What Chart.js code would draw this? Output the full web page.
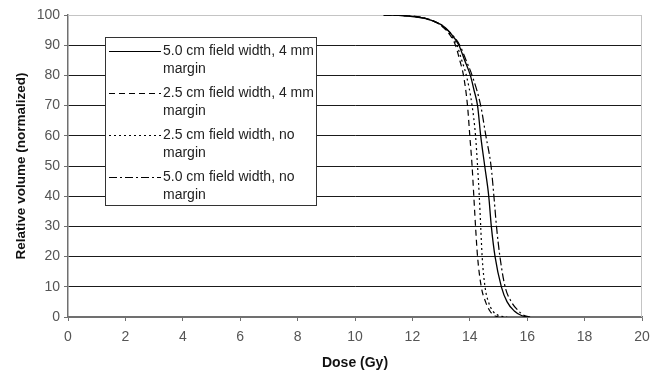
<!DOCTYPE html>
<html>
<head>
<meta charset="utf-8">
<script src="https://cdn.jsdelivr.net/npm/chart.js@4/dist/chart.umd.min.js"></script>
<style>
  html, body { margin: 0; padding: 0; background: #fff; }
  #wrap { width: 659px; height: 377px; }
</style>
</head>
<body>
<div id="wrap"><canvas id="chartDVH" width="659" height="377"></canvas></div>
<script>
// Dosis (Gy) y volumen relativo (%)
const etiquetas = [
    '5.0 cm field width, 4 mm margin',
    '2.5 cm field width, 4 mm margin',
    '2.5 cm field width, no margin',
    '5.0 cm field width, no margin'
];

const dosis5cm4mm = [11, 11.5, 12, 12.5, 13, 13.3, 13.62, 13.82, 14.02, 14.15, 14.27, 14.38, 14.52, 14.66, 14.75, 14.88, 15.1, 15.3, 15.55, 15.8, 16.0];
const vol5cm4mm   = [100, 99.9, 99.5, 98.7, 96.8, 94.3, 90, 85, 80, 75, 70, 60, 50, 40, 30, 20, 10, 5, 2, 0.5, 0];

const dosis25cm4mm = [11, 11.5, 12, 12.5, 13, 13.3, 13.5, 13.65, 13.78, 13.92, 14.0, 14.08, 14.14, 14.2, 14.27, 14.4, 14.55, 14.7, 14.85, 15.0];
const vol25cm4mm   = [100, 99.9, 99.6, 98.8, 96.5, 93.5, 90, 85, 80, 70, 60, 50, 40, 30, 20, 10, 5, 2, 0.5, 0];

const dosis25cmSin = [11, 11.5, 12, 12.5, 13, 13.3, 13.55, 13.72, 13.88, 14.08, 14.2, 14.27, 14.33, 14.38, 14.43, 14.53, 14.65, 14.8, 15.0, 15.3];
const vol25cmSin   = [100, 99.9, 99.6, 98.8, 96.6, 93.8, 90, 85, 80, 70, 60, 50, 40, 30, 20, 10, 5, 2, 0.5, 0];

const dosis5cmSin = [11, 11.5, 12, 12.5, 13, 13.3, 13.65, 13.87, 14.08, 14.38, 14.56, 14.74, 14.84, 14.93, 15.05, 15.23, 15.45, 15.7, 15.9, 16.1];
const vol5cmSin   = [100, 99.9, 99.5, 98.7, 96.8, 94.3, 90, 85, 80, 70, 60, 50, 40, 30, 20, 10, 5, 2, 0.5, 0];

const ticksX = [0, 2, 4, 6, 8, 10, 12, 14, 16, 18, 20];
const ticksY = [0, 10, 20, 30, 40, 50, 60, 70, 80, 90, 100];

const trazos = [[], [6, 4], [2, 3], [8, 3, 2, 3]];

const fuente = '"Liberation Sans", Arial, sans-serif';

function armarPuntos(dosis, vol) {
    return dosis.map((d, i) => ({ x: d, y: vol[i] }));
}

const series = [
    armarPuntos(dosis5cm4mm, vol5cm4mm),
    armarPuntos(dosis25cm4mm, vol25cm4mm),
    armarPuntos(dosis25cmSin, vol25cmSin),
    armarPuntos(dosis5cmSin, vol5cmSin)
];

// Leyenda dibujada dentro del area del grafico
const leyendaInterna = {
    id: 'leyendaInterna',
    afterDraw(chart) {
        const ctx = chart.ctx;
        const caja = { x: 105.5, y: 37.5, w: 211, h: 168 };
        ctx.save();
        ctx.fillStyle = '#ffffff';
        ctx.fillRect(caja.x, caja.y, caja.w, caja.h);
        ctx.strokeStyle = '#333333';
        ctx.lineWidth = 1;
        ctx.strokeRect(caja.x, caja.y, caja.w, caja.h);
        ctx.font = '14px ' + fuente;
        ctx.textBaseline = 'middle';
        ctx.fillStyle = '#222222';
        chart.data.datasets.forEach((ds, i) => {
            const y = 51 + i * 42;
            ctx.setLineDash(ds.borderDash || []);
            ctx.strokeStyle = '#000';
            ctx.beginPath();
            ctx.moveTo(109, y + 0.5);
            ctx.lineTo(161, y + 0.5);
            ctx.stroke();
            ctx.setLineDash([]);
            const linea1 = ds.label.replace(/ margin$/, '');
            ctx.fillText(linea1, 163, y);
            ctx.fillText('margin', 163, y + 18.5);
        });
        ctx.restore();
    }
};

// Borde superior y derecho del area de trazado
const bordeArea = {
    id: 'bordeArea',
    beforeDatasetsDraw(chart) {
        const a = chart.chartArea;
        const ctx = chart.ctx;
        ctx.save();
        ctx.strokeStyle = '#c4c4c4';
        ctx.lineWidth = 1;
        ctx.beginPath();
        ctx.moveTo(a.left, a.top + 0.5);
        ctx.lineTo(a.right - 0.5, a.top + 0.5);
        ctx.lineTo(a.right - 0.5, a.bottom);
        ctx.stroke();
        ctx.restore();
    }
};

const ctx = document.getElementById('chartDVH').getContext('2d');
new Chart(ctx, {
    type: 'line',
    data: {
        datasets: series.map((pts, i) => ({
            label: etiquetas[i],
            data: pts,
            borderColor: '#000000',
            borderWidth: i === 0 ? 1.3 : 1.2,
            borderDash: trazos[i],
            pointRadius: 0,
            fill: false,
            tension: 0.4,
            cubicInterpolationMode: 'monotone'
        }))
    },
    options: {
        responsive: false,
        animation: false,
        layout: { padding: { top: 15, right: 17, bottom: 0, left: 0 } },
        plugins: {
            legend: { display: false },
            tooltip: { enabled: false }
        },
        scales: {
            x: {
                type: 'linear',
                min: 0,
                max: 20,
                afterBuildTicks: (scale) => { scale.ticks = ticksX.map(v => ({ value: v })); },
                afterFit: (scale) => { scale.height = 60; },
                ticks: {
                    color: '#555555',
                    font: { family: fuente, size: 14 },
                    padding: 8,
                    maxRotation: 0
                },
                grid: {
                    drawOnChartArea: false,
                    drawTicks: true,
                    tickLength: 4,
                    tickColor: '#707070'
                },
                border: { display: true, color: '#707070', width: 1.5 },
                title: {
                    display: true,
                    text: 'Dose (Gy)',
                    color: '#111111',
                    font: { family: fuente, size: 14, weight: 'bold' },
                    padding: { top: 0, bottom: 5 }
                }
            },
            y: {
                min: 0,
                max: 100,
                afterBuildTicks: (scale) => { scale.ticks = ticksY.map(v => ({ value: v })); },
                afterFit: (scale) => { scale.width = 68; },
                ticks: {
                    color: '#555555',
                    font: { family: fuente, size: 14 },
                    padding: 4
                },
                grid: {
                    color: (c) => (c.tick && c.tick.value === 100) ? '#c4c4c4' : (c.tick && c.tick.value === 0 ? '#707070' : '#1a1a1a'),
                    lineWidth: 1,
                    drawTicks: true,
                    tickLength: 4,
                    tickColor: '#707070'
                },
                border: { display: true, color: '#707070', width: 1.5 },
                title: {
                    display: true,
                    text: 'Relative volume (normalized)',
                    color: '#111111',
                    font: { family: fuente, size: 13.5, weight: 'bold' },
                    padding: { top: 13, bottom: 0 }
                }
            }
        }
    },
    plugins: [bordeArea, leyendaInterna]
});
</script>
</body>
</html>
